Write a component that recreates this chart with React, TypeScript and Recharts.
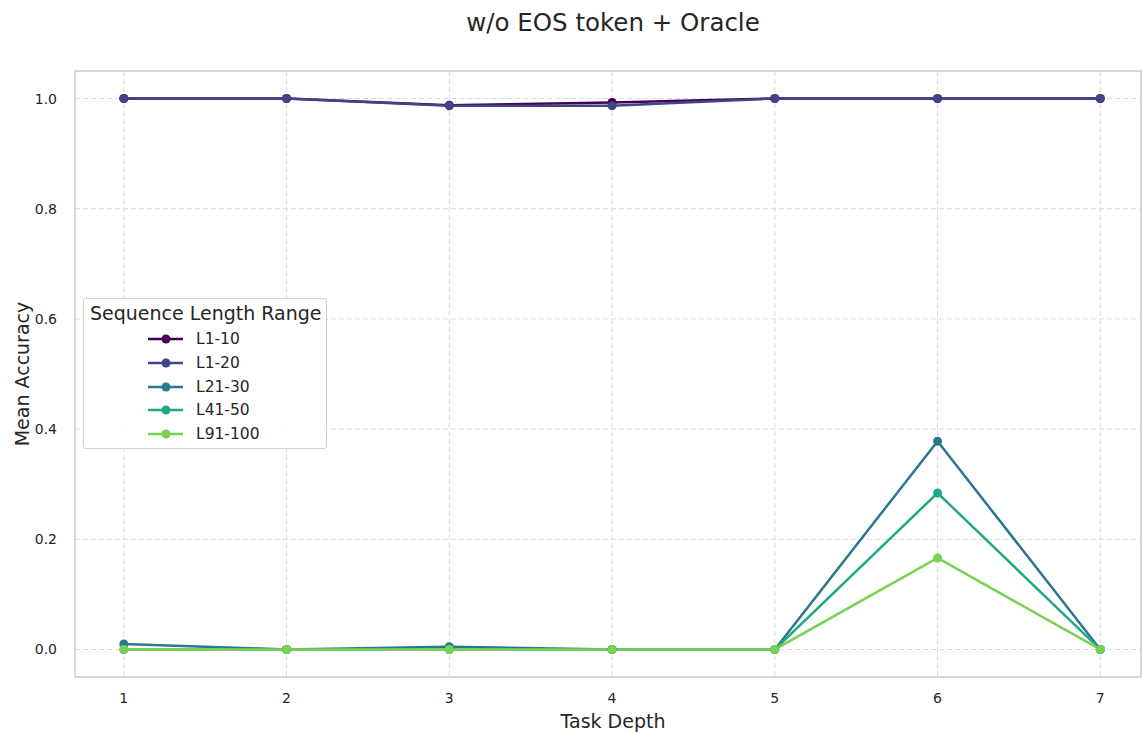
import { LineChart, Line, XAxis, YAxis, CartesianGrid, ReferenceArea, Legend } from 'recharts';

const depths = [1, 2, 3, 4, 5, 6, 7];
const seriesNames = ['L1-10', 'L1-20', 'L21-30', 'L41-50', 'L91-100'];
const seriesColors = ['#440154', '#414487', '#2a788e', '#22a884', '#7ad151'];

const l1to10 = [1.0, 1.0, 0.988, 0.993, 1.0, 1.0, 1.0];
const l1to20 = [1.0, 1.0, 0.987, 0.987, 1.0, 1.0, 1.0];
const l21to30 = [0.01, 0.0, 0.005, 0.0, 0.0, 0.378, 0.0];
const l41to50 = [0.0, 0.0, 0.0, 0.0, 0.0, 0.284, 0.0];
const l91to100 = [0.0, 0.0, 0.0, 0.0, 0.0, 0.166, 0.0];

const yTicks = [0, 0.2, 0.4, 0.6, 0.8, 1.0];

const allSeries = [l1to10, l1to20, l21to30, l41to50, l91to100];

const data = depths.map((d, i) => {
    const row: Record<string, number> = { depth: d };
    seriesNames.forEach((name, k) => {
        row[name] = allSeries[k][i];
    });
    return row;
});

const font = '"DejaVu Sans", sans-serif';

// legend box drawn like the matplotlib one
const LegendBox = () => (
    <div
        style={{
            position: 'absolute',
            left: 83,
            top: 298,
            width: 244,
            height: 151,
            boxSizing: 'border-box',
            border: '1px solid #d0d0d0',
            borderRadius: 3,
            background: 'rgba(255,255,255,0.85)',
            fontFamily: font,
            color: '#262626',
        }}
    >
        <div style={{ fontSize: 19, position: 'absolute', left: 6, top: 3, whiteSpace: 'nowrap' }}>
            Sequence Length Range
        </div>
        {seriesNames.map((name, i) => (
            <div key={name} style={{ position: 'absolute', left: 64, top: 30 + i * 23.8, height: 20, display: 'flex', alignItems: 'center' }}>
                <svg width={36} height={12}>
                    <line x1={0} y1={6} x2={35} y2={6} stroke={seriesColors[i]} strokeWidth={2.5} />
                    <circle cx={18} cy={6} r={4.5} fill={seriesColors[i]} />
                </svg>
                <span style={{ fontSize: 15.5, marginLeft: 12 }}>{name}</span>
            </div>
        ))}
    </div>
);

const App = () => {
    return (
        <div style={{ position: 'absolute', left: 0, top: 0, width: 1142, height: 732, overflow: 'hidden', background: '#fff' }}>
            <div
                style={{
                    position: 'absolute',
                    top: 8,
                    left: 0,
                    width: 1226,
                    textAlign: 'center',
                    fontFamily: font,
                    fontSize: 24.5,
                    color: '#262626',
                }}
            >
                w/o EOS token + Oracle
            </div>
            <LineChart
                width={1142}
                height={732}
                data={data}
                margin={{ top: 71, right: 1, left: 0, bottom: 0 }}
                style={{ fontFamily: font }}
            >
                <CartesianGrid stroke="#dcdcdc" strokeDasharray="5 3" strokeWidth={1} />
                <XAxis
                    dataKey="depth"
                    type="number"
                    domain={[0.7, 7.25]}
                    ticks={depths}
                    allowDataOverflow
                    height={55}
                    axisLine={false}
                    tickLine={false}
                    tickMargin={10}
                    tick={{ fontSize: 14, fill: '#262626' }}
                    label={{ value: 'Task Depth', position: 'insideBottom', offset: 4, dx: 5, fontSize: 19, fill: '#262626' }}
                />
                <YAxis
                    type="number"
                    domain={[-0.05, 1.05]}
                    ticks={yTicks}
                    allowDataOverflow
                    width={75}
                    axisLine={false}
                    tickLine={false}
                    tickMargin={12}
                    tickFormatter={(v: number) => v.toFixed(1)}
                    tick={{ fontSize: 14, fill: '#262626' }}
                    label={{ value: 'Mean Accuracy', angle: -90, position: 'insideLeft', offset: 22, fontSize: 19, fill: '#262626', style: { textAnchor: 'middle' } }}
                />
                <ReferenceArea x1={0.7} x2={7.25} y1={-0.05} y2={1.05} stroke="#cccccc" strokeWidth={1.5} fill="none" fillOpacity={0} />
                {seriesNames.map((name, i) => (
                    <Line
                        key={name}
                        dataKey={name}
                        stroke={seriesColors[i]}
                        strokeWidth={2.5}
                        dot={{ r: 4.5, fill: seriesColors[i], stroke: seriesColors[i], strokeWidth: 0 }}
                        activeDot={false}
                        isAnimationActive={false}
                        type="linear"
                    />
                ))}
                <Legend content={() => null} />
            </LineChart>
            <LegendBox />
        </div>
    );
};

export default App;
